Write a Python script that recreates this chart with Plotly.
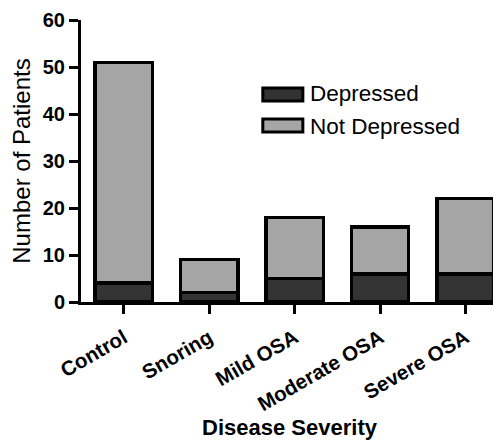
import plotly.graph_objects as go

categories = ["Control", "Snoring", "Mild OSA", "Moderate OSA", "Severe OSA"]
depressed = [4, 2, 5, 6, 6]
not_depressed = [47, 7, 13, 10, 16]
y_ticks = [0, 10, 20, 30, 40, 50, 60]

DARK = "#333333"
LIGHT = "#a5a5a5"
FONT = "Liberation Sans"

fig = go.Figure()
fig.add_trace(go.Bar(x=categories, y=depressed, name="Depressed",
                     marker=dict(color=DARK, line=dict(color="black", width=3.5)),
                     width=0.67))
fig.add_trace(go.Bar(x=categories, y=not_depressed, name="Not Depressed",
                     marker=dict(color=LIGHT, line=dict(color="black", width=3.5)),
                     width=0.67))

fig.update_layout(
    barmode="stack",
    width=493, height=432,
    margin=dict(l=73, r=3, t=12, b=138),
    plot_bgcolor="white", paper_bgcolor="white",
    showlegend=False,
    font=dict(family=FONT, color="black"),
)
fig.update_xaxes(
    range=[-0.5, 4.38], showline=True, linecolor="black", linewidth=3,
    ticks="outside", ticklen=9, tickwidth=3, tickcolor="black",
    tickangle=-30, tickfont=dict(size=20.5, family=FONT, weight="bold"),
    ticklabelstandoff=4, automargin=False,
    title=dict(text="Disease Severity", font=dict(size=22, family=FONT, weight="bold"), standoff=10),
    showgrid=False, zeroline=False,
)
fig.update_yaxes(
    range=[0, 60], tickvals=y_ticks, showline=True, linecolor="black", linewidth=3,
    ticks="outside", ticklen=9, tickwidth=3, tickcolor="black",
    tickfont=dict(size=20, family=FONT, weight="bold"), automargin=False,
    title=dict(text="Number of Patients", font=dict(size=24, family=FONT), standoff=10),
    showgrid=False, zeroline=False,
)

# custom legend
legend_items = [("Depressed", DARK, 0.713, 0.759, 0.738), ("Not Depressed", LIGHT, 0.603, 0.649, 0.624)]
for name, col, y0, y1, yt in legend_items:
    fig.add_shape(type="rect", xref="paper", yref="paper", x0=0.436, x1=0.532, y0=y0, y1=y1,
                  fillcolor=col, line=dict(color="black", width=3))
    fig.add_annotation(xref="paper", yref="paper", x=0.545, y=yt, text=name, showarrow=False,
                       xanchor="left", yanchor="middle", font=dict(size=22.5, family=FONT, color="black"))

fig.write_html("out.html")
